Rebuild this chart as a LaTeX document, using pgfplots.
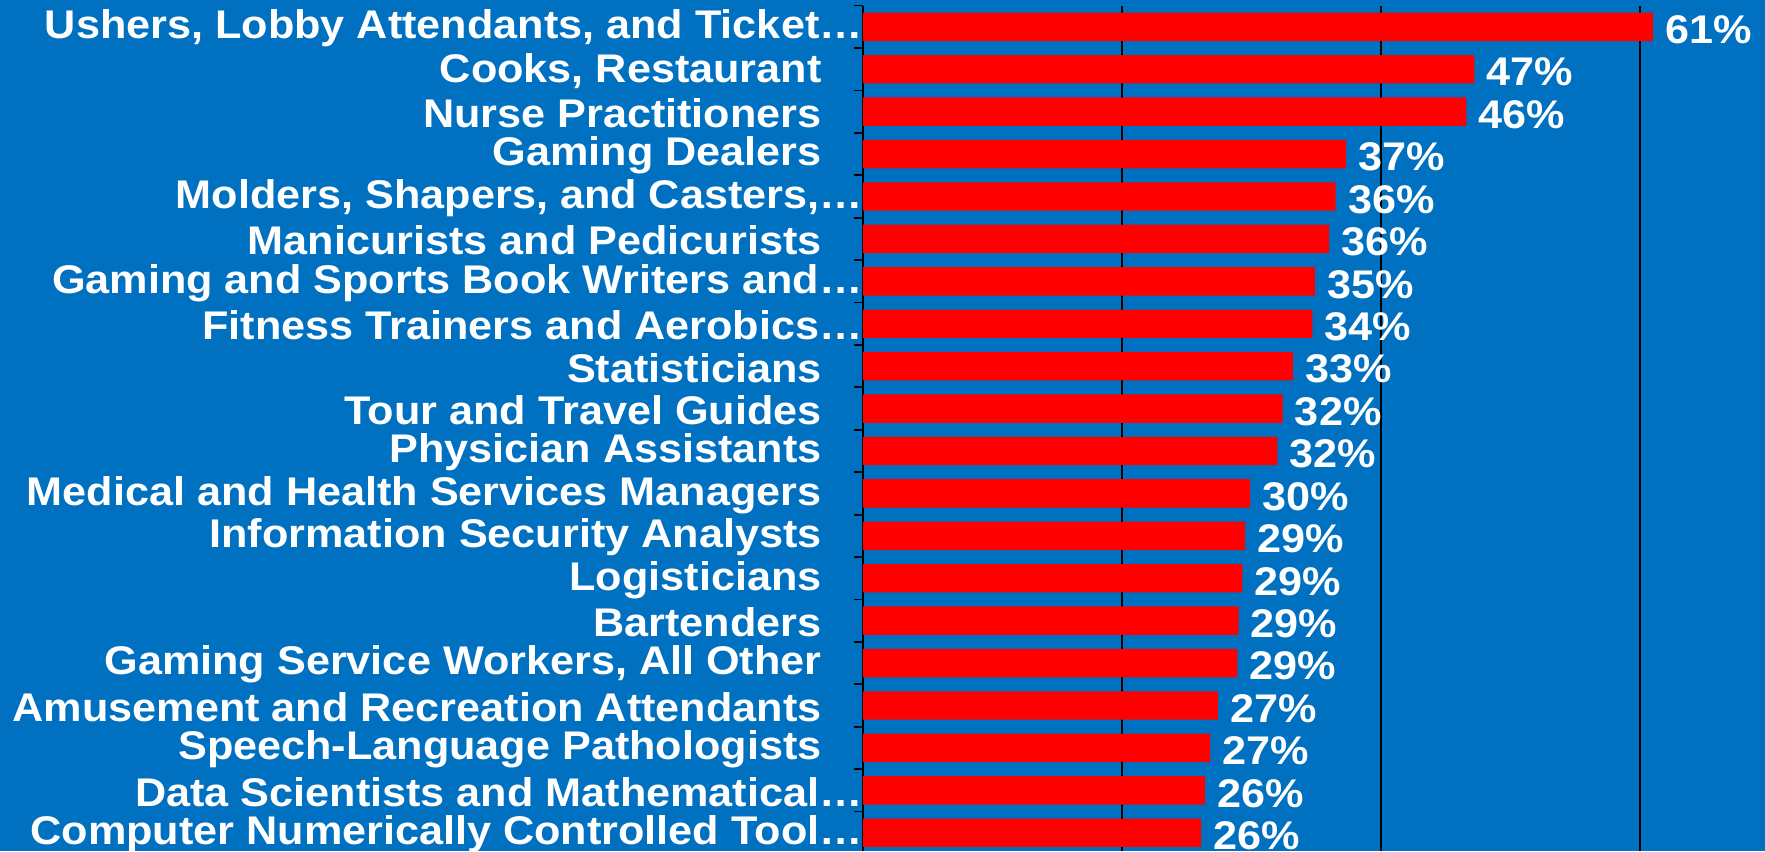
\documentclass[border=0pt]{standalone}
\usepackage{pgfplots}
\pgfplotsset{compat=1.18}
\usepackage{pgfplotstable}
\usepackage{fontspec}
\setmainfont{Liberation Sans}[FakeStretch=1.08]
\usetikzlibrary{backgrounds}
\definecolor{bgblue}{RGB}{0,112,192}
\newcommand{\trunc}[1]{#1\hspace*{-20.5pt}}
\newcommand{\lblfont}{\bfseries\fontsize{20}{20}\selectfont}

\pgfplotstableread{
y x v
19 61.0 61
18 47.2 47
17 46.6 46
16 37.3 37
15 36.5 36
14 36.0 36
13 34.9 35
12 34.7 34
11 33.2 33
10 32.4 32
9 32.0 32
8 29.9 30
7 29.5 29
6 29.3 29
5 29.0 29
4 28.9 29
3 27.4 27
2 26.8 27
1 26.4 26
0 26.1 26
}\data

\begin{document}
\begin{tikzpicture}
\begin{axis}[
  scale only axis, width=451pt, height=422.7pt,
  xmin=0, xmax=69.65, ymin=-0.43, ymax=19.5,
  clip=false,
  axis y line*=left, axis x line*=bottom,
  x axis line style={draw=none},
  y axis line style={black, line width=0.9pt},
  xtick={20,40,60}, xticklabels={}, xtick style={draw=none},
  xmajorgrids, grid style={black, line width=0.8pt},
  ytick={0,...,19},
  yticklabels={
    \trunc{Computer Numerically Controlled Tool…},
    \trunc{Data Scientists and Mathematical…},
    Speech-Language Pathologists,
    Amusement and Recreation Attendants,
    {Gaming Service Workers, All Other},
    Bartenders,
    Logisticians,
    Information Security Analysts,
    Medical and Health Services Managers,
    Physician Assistants,
    Tour and Travel Guides,
    Statisticians,
    \trunc{Fitness Trainers and Aerobics…},
    \trunc{Gaming and Sports Book Writers and…},
    Manicurists and Pedicurists,
    {\trunc{Molders, Shapers, and Casters,…}},
    Gaming Dealers,
    Nurse Practitioners,
    {Cooks, Restaurant},
    {\trunc{Ushers, Lobby Attendants, and Ticket…}}
  },
  ytick style={draw=none},
  minor ytick={-0.5,0.5,...,19.5},
  minor y tick style={draw=black, line width=0.9pt},
  minor tick length=4.5pt, tick align=outside,
  major tick length=0pt,
  yticklabel style={font=\lblfont, text=white, anchor=east, inner sep=0pt, xshift=-20.5pt, yshift=-0.8pt},
  xbar, bar width=0.67, bar shift=0pt,
  point meta=explicit,
  /pgf/number format/assume math mode=true,
  nodes near coords={\pgfmathprintnumber[fixed,precision=0,assume math mode=true]{\pgfplotspointmeta}\%},
  nodes near coords align=horizontal,
  every node near coord/.append style={font=\lblfont, text=white, anchor=west, inner sep=0pt, xshift=6pt, yshift=-1.5pt},
]
\addplot[fill=red, draw=none] table[x=x, y=y, meta=v] {\data};
\coordinate (bbtl) at (rel axis cs:0,1);
\coordinate (bbbr) at (rel axis cs:1,0);
\end{axis}
\pgfresetboundingbox
\path[use as bounding box] ([xshift=-431.5pt,yshift=2.8pt]bbtl) rectangle (bbbr);
\begin{scope}[on background layer]
\fill[bgblue] ([xshift=-431.5pt,yshift=2.8pt]bbtl) rectangle (bbbr);
\end{scope}
\end{tikzpicture}
\end{document}
